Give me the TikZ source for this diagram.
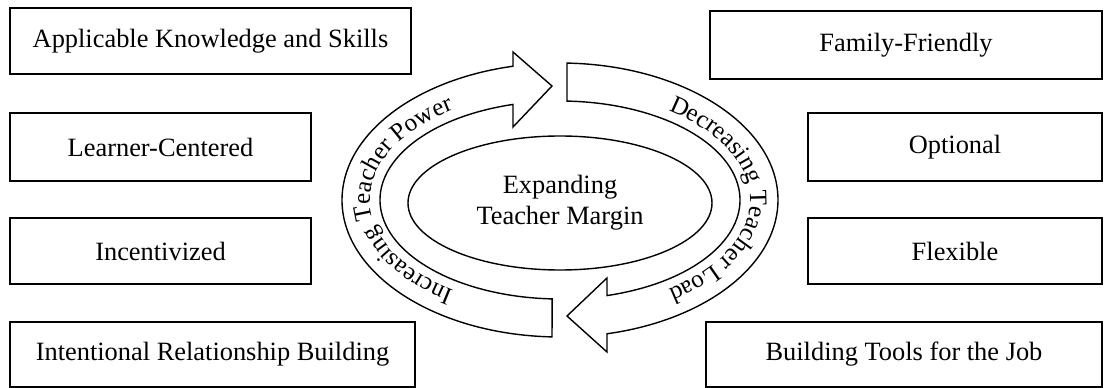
\documentclass[tikz,border=0pt]{standalone}
\usepackage{fontspec}
\setmainfont{Liberation Serif}
\usetikzlibrary{decorations.text,calc,shapes.geometric}
\newcommand\boxfont{\fontsize{26.4}{31}\selectfont}
\newcommand\bandfont{\fontsize{25}{25}\selectfont}
\begin{document}
\begin{tikzpicture}[x=1pt,y=-1pt,
  box/.style={draw, line width=1.6pt, inner sep=0pt, font=\boxfont},
  band/.style={draw, line width=1.4pt, line join=miter},
  bandtext/.style={decorate, decoration={text along path, text align=center, text={|\bandfont|#1}}}
]
\useasboundingbox (0,0) rectangle (1104,388);

% left boxes
\node[box, minimum width=401pt, minimum height=66pt] (k) at (210.5,41) {Applicable Knowledge and Skills};
\node[box, minimum width=301pt, minimum height=68pt] (l) at (160.5,147) {Learner-Centered};
\node[box, minimum width=301pt, minimum height=66pt] (i) at (160.5,251) {Incentivized};
\node[box, minimum width=405pt, minimum height=65pt] (r) at (212.5,354.5) {Intentional Relationship Building};

% right boxes
\node[box, minimum width=392pt, minimum height=68pt] (f) at (906,45) {Family-Friendly};
\node[box, minimum width=294pt, minimum height=68pt] (o) at (955,147) {Optional};
\node[box, minimum width=294pt, minimum height=66pt] (x) at (955,251) {Flexible};
\node[box, minimum width=396pt, minimum height=65pt] (t) at (904,354.5) {Building Tools for the Job};

% centre
\node[draw, ellipse, line width=1.4pt, inner sep=0pt, minimum width=304pt, minimum height=134pt, align=center, font=\boxfont] (m) at (560,203) {Expanding\\Teacher Margin};

\coordinate (c) at (560,200);

% left curved arrow
\draw[band] ($(c)+(92.1:218 and 137)$) arc[start angle=92.1, end angle=257.55, x radius=218, y radius=137]
  -- (513,52) -- (552,86) -- (513,127)
  -- ($(c)+(254.86:180 and 99)$) arc[start angle=254.86, end angle=92.5, x radius=180, y radius=99] -- cycle;

% right curved arrow
\draw[band] ($(c)+(-88.16:218 and 137)$) arc[start angle=-88.16, end angle=77.55, x radius=218, y radius=137]
  -- (607,352) -- (567,316) -- (607,278)
  -- ($(c)+(74.86:180 and 99)$) arc[start angle=74.86, end angle=-87.77, x radius=180, y radius=99] -- cycle;

% texts along the arrows
\path[bandtext={Increasing Teacher Power}] ($(c)+(100:190 and 109)$) arc[start angle=100, end angle=260, x radius=190, y radius=109];
\path[bandtext={Decreasing Teacher Load}] ($(c)+(-80:190 and 109)$) arc[start angle=-80, end angle=80, x radius=190, y radius=109];
\end{tikzpicture}
\end{document}
